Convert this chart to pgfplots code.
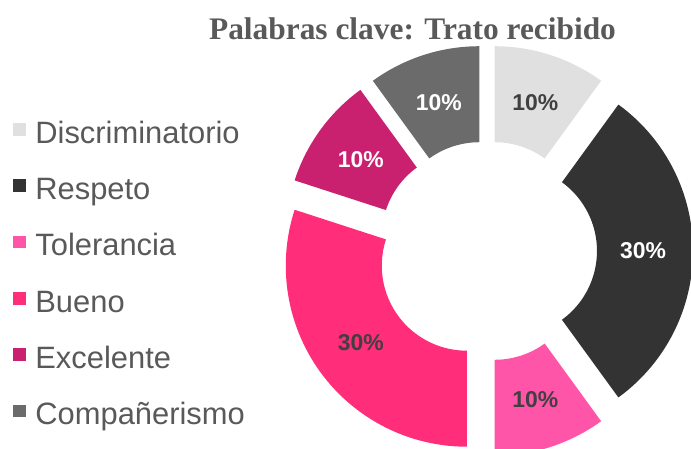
\documentclass[border=0pt]{standalone}
\usepackage{fontspec}
\setmainfont{Liberation Sans}
\newfontfamily\titlefamily{Liberation Serif}
\usepackage{pgfplots}
\usepackage{pgfplotstable}
\pgfplotsset{compat=1.18}
\usetikzlibrary{calc}

\definecolor{cDisc}{HTML}{E0E0E0}
\definecolor{cResp}{HTML}{333333}
\definecolor{cTole}{HTML}{FF55A8}
\definecolor{cBuen}{HTML}{FF2D7A}
\definecolor{cExce}{HTML}{C9216F}
\definecolor{cComp}{HTML}{6B6B6B}
\definecolor{cText}{HTML}{595959}
\definecolor{cDark}{HTML}{404040}

\newcommand\pctfont{\bfseries\fontsize{23}{26}\selectfont}

\pgfplotstableread{
label value fillc textc
Discriminatorio 10 cDisc cDark
Respeto 30 cResp white
Tolerancia 10 cTole cDark
Bueno 30 cBuen cDark
Excelente 10 cExce white
Companerismo 10 cComp white
}\datatable

\begin{document}
\begin{tikzpicture}
\begin{axis}[
  at={(0,0)}, anchor=origin,
  x=1bp, y=1bp,
  xmin=0, xmax=691, ymin=0, ymax=449,
  hide axis, clip=false,
  legend image code/.code={\fill[#1] (0bp,8.3bp) rectangle (11.7bp,20bp);},
  legend style={
    draw=none, fill=none,
    inner sep=0pt, outer sep=0pt,
    at={(axis cs:13,328.7)}, anchor=north west,
    row sep=26.3bp, column sep=10.3bp,
    font=\fontsize{31}{36}\selectfont,
    cells={anchor=base west},
    nodes={inner sep=0pt, text=cText, text height=23bp, text depth=7bp},
  },
  legend entries={Discriminatorio, Respeto, Tolerancia, Bueno, Excelente, Compañerismo},
]
\addlegendimage{cDisc}
\addlegendimage{cResp}
\addlegendimage{cTole}
\addlegendimage{cBuen}
\addlegendimage{cExce}
\addlegendimage{cComp}

\pgfmathsetmacro{\cum}{0}
\pgfplotsforeachungrouped \i in {0,...,5}{%
  \pgfplotstablegetelem{\i}{value}\of\datatable \let\v=\pgfplotsretval
  \pgfplotstablegetelem{\i}{fillc}\of\datatable \let\fc=\pgfplotsretval
  \pgfplotstablegetelem{\i}{textc}\of\datatable \let\tc=\pgfplotsretval
  \pgfmathsetmacro{\sa}{90-3.6*\cum}%
  \pgfmathsetmacro{\ea}{90-3.6*(\cum+\v)}%
  \pgfmathsetmacro{\ma}{(\sa+\ea)/2}%
  \pgfmathsetmacro{\ox}{487+25*cos(\ma)}%
  \pgfmathsetmacro{\oy}{198+25*sin(\ma)}%
  \pgfmathsetmacro{\cum}{\cum+\v}%
  \edef\temp{%
    \noexpand\fill[\fc] ($(axis cs:\ox,\oy)+(\sa:181bp)$) arc[start angle=\sa, end angle=\ea, radius=181bp]
      -- ($(axis cs:\ox,\oy)+(\ea:85bp)$) arc[start angle=\ea, end angle=\sa, radius=85bp] -- cycle;
    \noexpand\node[text=\tc, font=\noexpand\pctfont, inner sep=0pt] at ($(axis cs:\ox,\oy)+(\ma:131bp)$) {\v\noexpand\%};
  }%
  \temp
}

\node[anchor=base, text=cText, font=\titlefamily\bfseries\fontsize{31.5}{36}\selectfont, inner sep=0pt]
  at (axis cs:412.5,409) {Palabras clave: Trato recibido};
\end{axis}
\pgfresetboundingbox
\path[use as bounding box] (0,0) rectangle (691bp,449bp);
\end{tikzpicture}
\end{document}
